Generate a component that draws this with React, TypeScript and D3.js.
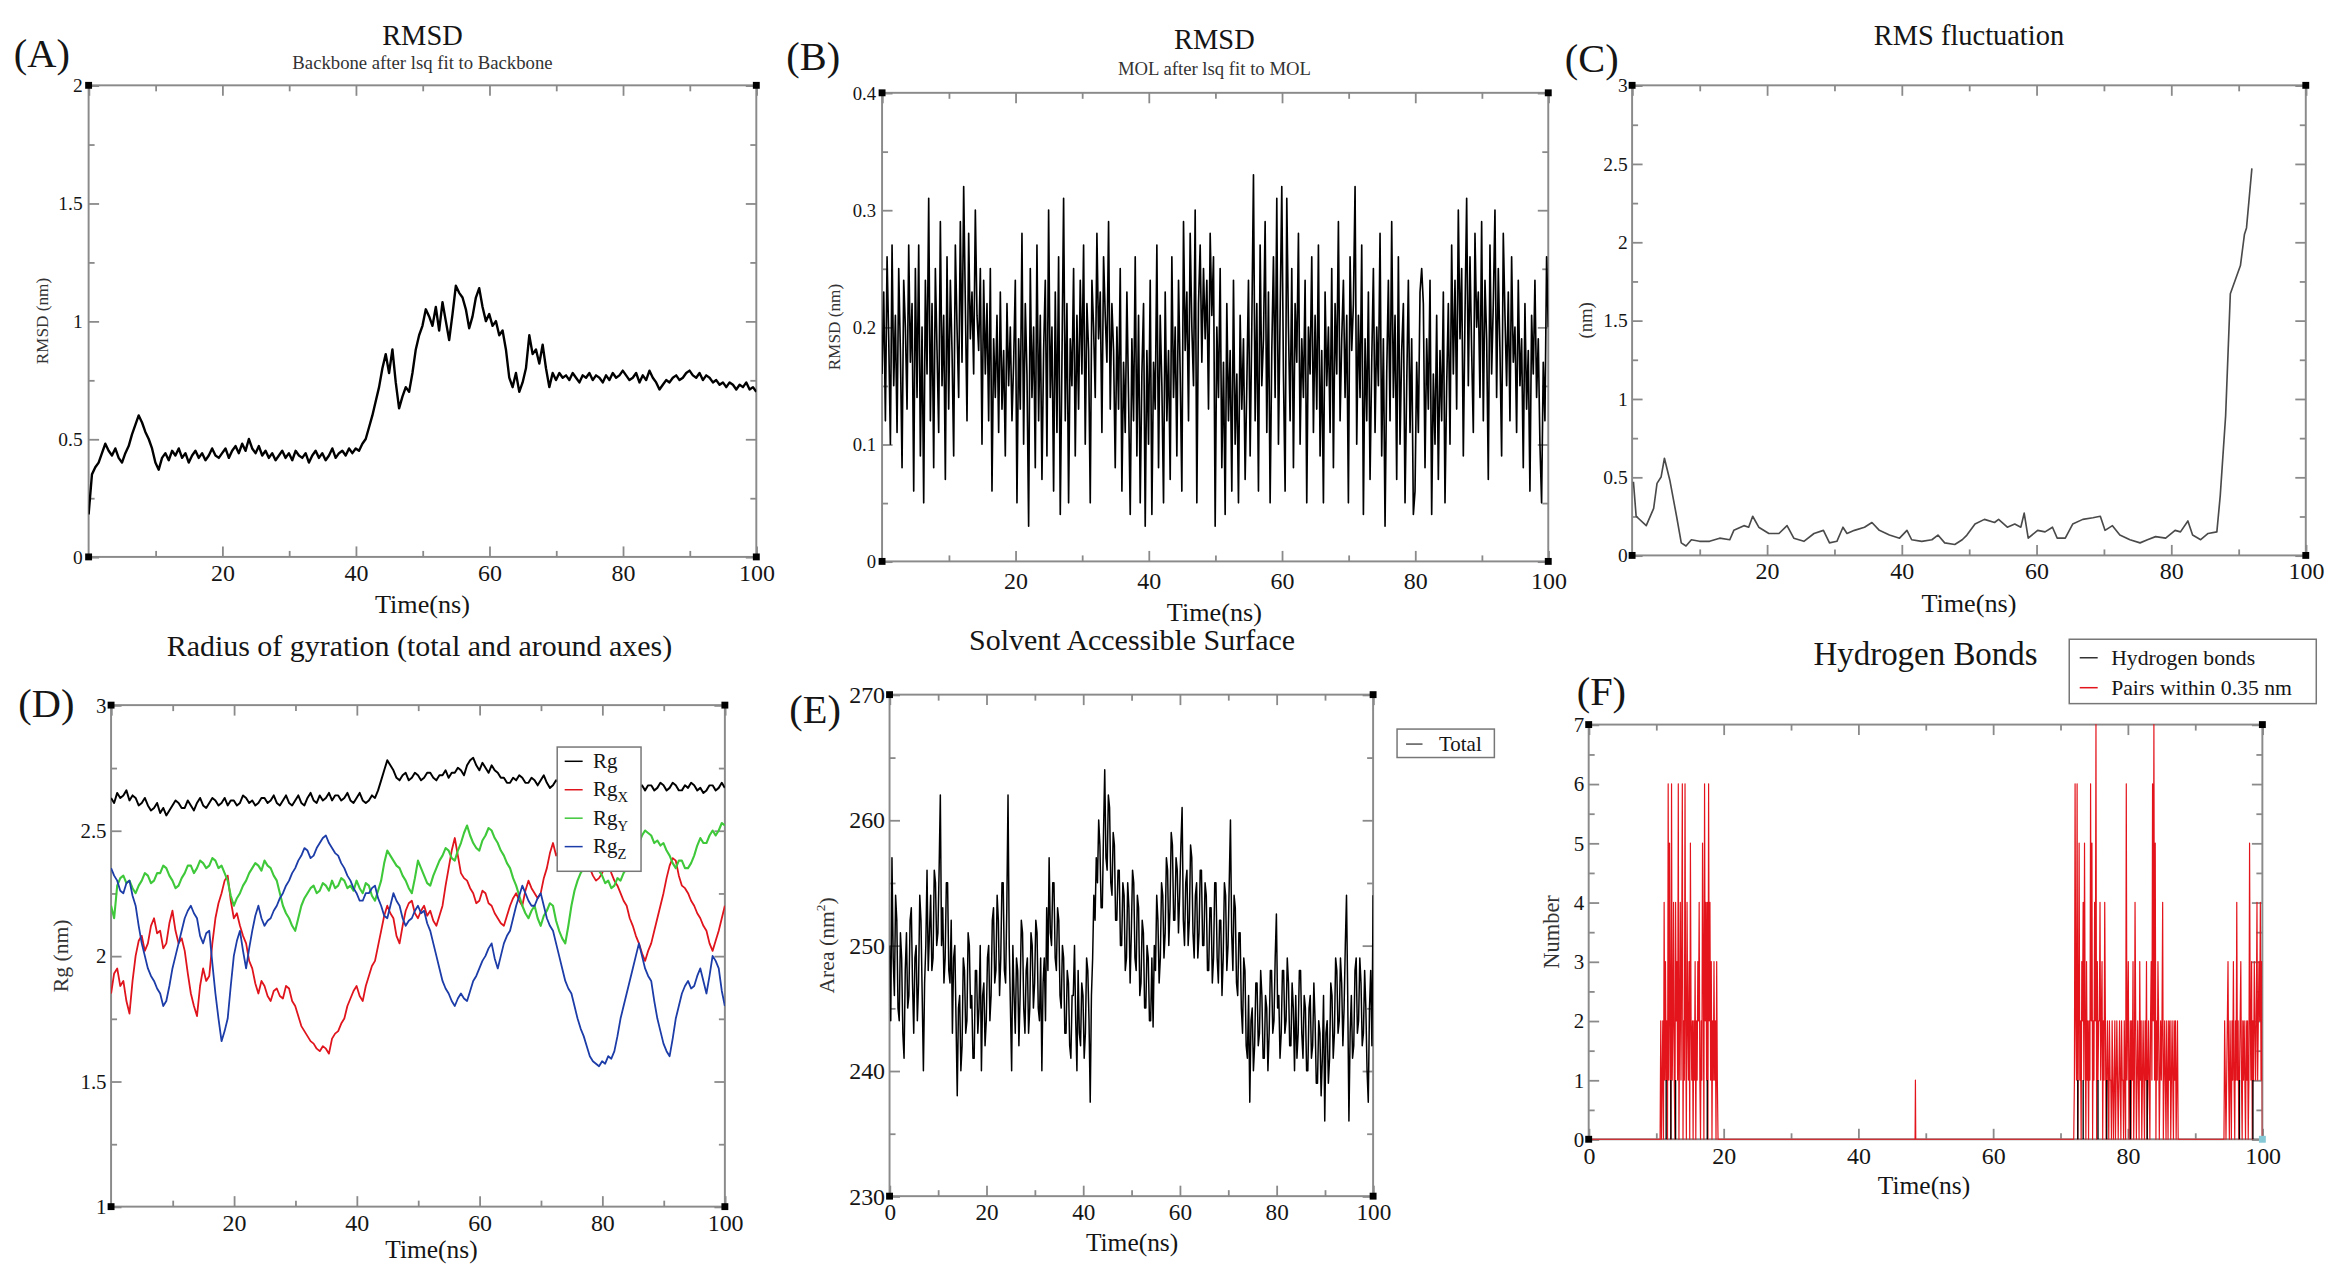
import React, {Component} from 'react';
import * as d3 from "d3"

type Pt = [number, number]

const FONT = "'Liberation Serif', 'Times New Roman', Times, serif"
const FRAME = "#8a8a8a"
const INK = "#151515"

// ---------------- data ----------------
// every panel shares the simulation time axis (ns)
const timeTicks = [0, 20, 40, 60, 80, 100]

// (A) RMSD, backbone after lsq fit to backbone (nm), one value every 0.5 ns
const backboneStep = 0.5
const backboneRmsd = [
  0.18,0.35,0.38,0.40,0.44,0.48,0.45,0.43,0.46,0.42,0.40,0.44,0.47,0.52,0.56,0.60,0.57,0.53,0.50,0.46,
  0.40,0.37,0.42,0.44,0.41,0.45,0.43,0.46,0.42,0.44,0.40,0.43,0.45,0.42,0.44,0.41,0.43,0.46,0.43,0.42,
  0.44,0.46,0.42,0.45,0.47,0.44,0.48,0.45,0.50,0.46,0.44,0.47,0.43,0.45,0.42,0.44,0.41,0.43,0.45,0.42,
  0.44,0.41,0.45,0.43,0.42,0.44,0.40,0.43,0.45,0.42,0.44,0.41,0.43,0.46,0.42,0.44,0.45,0.43,0.46,0.44,
  0.46,0.45,0.48,0.50,0.55,0.60,0.66,0.72,0.80,0.86,0.78,0.88,0.74,0.63,0.68,0.72,0.70,0.78,0.88,0.94,
  0.98,1.05,1.02,0.98,1.06,0.96,1.08,1.00,0.92,1.03,1.15,1.12,1.10,1.05,0.97,1.02,1.10,1.14,1.06,1.00,
  1.03,0.98,1.00,0.94,0.96,0.88,0.76,0.72,0.78,0.70,0.74,0.80,0.94,0.86,0.88,0.82,0.90,0.80,0.72,0.78,
  0.75,0.78,0.76,0.77,0.75,0.78,0.76,0.74,0.77,0.76,0.78,0.75,0.77,0.76,0.74,0.77,0.75,0.78,0.76,0.77,
  0.79,0.77,0.75,0.76,0.78,0.74,0.77,0.75,0.79,0.76,0.74,0.71,0.73,0.75,0.74,0.76,0.77,0.75,0.76,0.78,
  0.79,0.77,0.76,0.78,0.75,0.77,0.76,0.74,0.75,0.73,0.74,0.72,0.74,0.73,0.71,0.73,0.72,0.74,0.71,0.72,
  0.70
]
const backboneTicks = [0, 0.5, 1, 1.5, 2]

// (B) RMSD, MOL after lsq fit to MOL (nm), one value every 0.25 ns
const molStep = 0.25
const molRmsd = [
  0.16,0.23,0.12,0.26,0.19,0.10,0.27,0.15,0.21,0.11,0.25,0.18,0.08,0.24,0.20,0.13,0.27,0.17,0.22,0.06,
  0.25,0.14,0.27,0.09,0.20,0.05,0.24,0.16,0.31,0.12,0.22,0.08,0.25,0.18,0.11,0.29,0.15,0.21,0.07,0.26,
  0.13,0.24,0.18,0.09,0.27,0.20,0.14,0.29,0.17,0.32,0.22,0.12,0.28,0.19,0.23,0.16,0.30,0.21,0.18,0.25,
  0.10,0.24,0.16,0.22,0.12,0.25,0.06,0.19,0.14,0.21,0.11,0.23,0.13,0.18,0.09,0.22,0.15,0.20,0.12,0.17,
  0.24,0.05,0.19,0.13,0.28,0.10,0.22,0.16,0.03,0.25,0.14,0.20,0.08,0.27,0.12,0.21,0.07,0.18,0.24,0.09,
  0.30,0.14,0.20,0.06,0.23,0.11,0.26,0.04,0.17,0.31,0.12,0.22,0.05,0.19,0.15,0.25,0.09,0.21,0.13,0.24,
  0.16,0.27,0.10,0.22,0.18,0.05,0.24,0.20,0.14,0.28,0.19,0.23,0.11,0.26,0.21,0.17,0.29,0.13,0.22,0.18,
  0.08,0.20,0.13,0.25,0.06,0.17,0.11,0.23,0.14,0.04,0.19,0.12,0.26,0.09,0.21,0.05,0.16,0.22,0.03,0.18,
  0.10,0.24,0.04,0.17,0.13,0.27,0.08,0.21,0.15,0.05,0.23,0.12,0.18,0.07,0.26,0.14,0.20,0.09,0.24,0.16,
  0.06,0.29,0.18,0.23,0.12,0.28,0.20,0.15,0.30,0.05,0.22,0.27,0.17,0.25,0.19,0.24,0.13,0.28,0.21,0.26,
  0.03,0.20,0.14,0.25,0.08,0.17,0.04,0.22,0.12,0.18,0.06,0.24,0.10,0.16,0.05,0.21,0.13,0.19,0.07,0.15,
  0.24,0.09,0.20,0.33,0.12,0.22,0.06,0.27,0.15,0.19,0.29,0.11,0.23,0.05,0.18,0.26,0.14,0.31,0.10,0.21,
  0.32,0.16,0.06,0.31,0.20,0.12,0.25,0.08,0.22,0.17,0.28,0.10,0.19,0.14,0.24,0.05,0.20,0.16,0.26,0.11,
  0.21,0.13,0.27,0.09,0.18,0.05,0.23,0.15,0.20,0.11,0.25,0.08,0.22,0.16,0.29,0.12,0.19,0.24,0.14,0.21,
  0.05,0.26,0.18,0.22,0.32,0.10,0.21,0.14,0.27,0.04,0.19,0.12,0.23,0.07,0.17,0.25,0.11,0.20,0.15,0.28,
  0.09,0.19,0.03,0.16,0.24,0.12,0.29,0.14,0.21,0.07,0.26,0.10,0.18,0.22,0.05,0.15,0.24,0.11,0.19,0.04,
  0.06,0.17,0.11,0.23,0.25,0.22,0.08,0.19,0.13,0.24,0.04,0.16,0.10,0.21,0.07,0.18,0.12,0.23,0.05,0.15,
  0.22,0.10,0.27,0.16,0.24,0.13,0.30,0.19,0.25,0.09,0.21,0.31,0.15,0.26,0.18,0.11,0.28,0.20,0.23,0.14,
  0.29,0.12,0.24,0.19,0.07,0.27,0.16,0.22,0.30,0.14,0.25,0.18,0.09,0.28,0.21,0.15,0.23,0.12,0.26,0.17,
  0.20,0.11,0.24,0.15,0.19,0.08,0.22,0.13,0.18,0.06,0.21,0.16,0.24,0.14,0.19,0.10,0.05,0.17,0.12,0.26,
  0.20
]
const molTicks = [0, 0.1, 0.2, 0.3, 0.4]

// (C) RMS fluctuation (nm)
const rmsfTime = [
  0.2,0.6,2.1,3.2,3.7,4.3,4.8,5.6,6.6,7.3,8,8.8,10,11.5,13,14.5,15.1,16.6,17.3,17.9,
  18.8,20.3,21.8,23,24,25.5,27,28.4,29.3,30.4,31.3,31.9,33,34.5,35.6,36.7,38.2,39.7,40.8,41.5,
  43,44.5,45.4,46.4,47.9,49,49.7,50.9,52.3,53.8,54.4,55.7,56.8,57.7,58.2,58.8,60.2,61.3,62.4,63.1,
  64.3,65.4,66.9,68.4,69.5,70.2,71.3,72.4,73.9,75.4,76.5,77.7,79.2,80.6,81.4,82.5,83.2,84.4,85.5,86.8,
  87.3,88.1,88.8,90.3,90.9,91.2,92
]
const rmsfValue = [
  0.47,0.25,0.19,0.30,0.46,0.50,0.62,0.48,0.25,0.08,0.06,0.10,0.09,0.09,0.11,0.10,0.16,0.19,0.18,0.25,
  0.18,0.14,0.14,0.19,0.11,0.09,0.14,0.16,0.08,0.09,0.18,0.14,0.16,0.18,0.21,0.16,0.13,0.11,0.16,0.10,
  0.09,0.10,0.13,0.08,0.07,0.10,0.13,0.20,0.23,0.21,0.23,0.18,0.20,0.18,0.27,0.11,0.16,0.15,0.18,0.11,
  0.11,0.20,0.23,0.24,0.25,0.16,0.19,0.13,0.10,0.08,0.10,0.12,0.11,0.16,0.15,0.22,0.13,0.10,0.14,0.15,
  0.38,0.89,1.67,1.85,2.05,2.09,2.47
]
const rmsfTicks = [0, 0.5, 1, 1.5, 2, 2.5, 3]

// (D) radius of gyration (nm), one value every 0.5 ns
const rgStep = 0.5
const rgTotal = [
  2.63,2.61,2.65,2.63,2.64,2.66,2.62,2.64,2.63,2.60,2.61,2.63,2.60,2.58,2.59,2.61,2.57,2.59,2.56,2.58,
  2.60,2.62,2.61,2.59,2.59,2.62,2.60,2.58,2.61,2.63,2.60,2.59,2.61,2.63,2.62,2.60,2.61,2.63,2.60,2.62,
  2.62,2.60,2.61,2.64,2.63,2.61,2.62,2.60,2.61,2.63,2.63,2.61,2.62,2.64,2.61,2.60,2.62,2.64,2.61,2.60,
  2.62,2.64,2.61,2.60,2.63,2.65,2.62,2.61,2.64,2.62,2.63,2.65,2.62,2.64,2.64,2.62,2.63,2.65,2.62,2.61,
  2.63,2.65,2.62,2.61,2.62,2.64,2.63,2.66,2.70,2.74,2.78,2.76,2.74,2.71,2.70,2.72,2.73,2.70,2.71,2.73,
  2.72,2.70,2.71,2.73,2.73,2.71,2.70,2.72,2.72,2.74,2.71,2.73,2.73,2.75,2.74,2.72,2.76,2.78,2.79,2.76,
  2.74,2.77,2.75,2.73,2.76,2.74,2.73,2.71,2.71,2.69,2.69,2.71,2.70,2.72,2.71,2.69,2.69,2.71,2.70,2.68,
  2.70,2.72,2.69,2.67,2.68,2.70,2.69,2.67,2.67,2.69,2.68,2.66,2.67,2.69,2.68,2.66,2.66,2.68,2.67,2.65,
  2.68,2.66,2.67,2.69,2.66,2.68,2.68,2.66,2.67,2.69,2.68,2.66,2.67,2.68,2.66,2.68,2.68,2.66,2.67,2.69,
  2.68,2.66,2.67,2.69,2.68,2.66,2.66,2.68,2.67,2.69,2.68,2.66,2.67,2.65,2.66,2.68,2.68,2.66,2.67,2.69,
  2.67
]
const rgX = [
  1.85,1.93,1.95,1.88,1.90,1.82,1.77,1.90,2.00,2.06,2.08,2.02,2.05,2.12,2.15,2.09,2.10,2.03,2.05,2.13,
  2.18,2.10,2.05,2.07,2.02,1.93,1.85,1.80,1.76,1.88,1.95,1.90,1.92,2.05,2.15,2.21,2.25,2.30,2.32,2.22,
  2.15,2.17,2.12,2.08,2.05,1.98,1.95,1.89,1.85,1.90,1.88,1.84,1.82,1.86,1.87,1.84,1.83,1.88,1.87,1.82,
  1.80,1.76,1.72,1.70,1.68,1.66,1.65,1.63,1.62,1.64,1.63,1.61,1.67,1.69,1.70,1.73,1.75,1.80,1.83,1.86,
  1.88,1.84,1.82,1.88,1.92,1.96,1.98,2.04,2.10,2.16,2.20,2.17,2.15,2.08,2.05,2.12,2.18,2.21,2.22,2.17,
  2.15,2.18,2.20,2.16,2.18,2.14,2.12,2.16,2.20,2.28,2.35,2.42,2.47,2.40,2.33,2.31,2.30,2.27,2.25,2.21,
  2.22,2.26,2.25,2.21,2.20,2.17,2.15,2.13,2.12,2.16,2.20,2.23,2.25,2.22,2.20,2.26,2.30,2.27,2.25,2.23,
  2.25,2.31,2.35,2.41,2.45,2.40,2.42,2.46,2.48,2.44,2.45,2.42,2.40,2.43,2.42,2.38,2.35,2.32,2.30,2.31,
  2.33,2.36,2.38,2.33,2.30,2.28,2.25,2.22,2.20,2.15,2.12,2.08,2.05,2.01,1.98,2.02,2.05,2.10,2.15,2.20,
  2.25,2.31,2.36,2.39,2.38,2.32,2.28,2.27,2.25,2.22,2.20,2.17,2.15,2.12,2.10,2.05,2.02,2.06,2.10,2.15,
  2.20
]
const rgY = [
  2.20,2.15,2.28,2.31,2.32,2.29,2.30,2.27,2.25,2.28,2.30,2.33,2.32,2.29,2.30,2.33,2.33,2.36,2.35,2.32,
  2.30,2.27,2.28,2.31,2.33,2.36,2.36,2.33,2.35,2.38,2.37,2.35,2.36,2.39,2.38,2.35,2.36,2.33,2.30,2.24,
  2.20,2.23,2.25,2.28,2.30,2.33,2.35,2.37,2.36,2.34,2.38,2.36,2.35,2.32,2.30,2.25,2.20,2.17,2.15,2.12,
  2.10,2.15,2.20,2.23,2.25,2.27,2.28,2.25,2.26,2.29,2.28,2.26,2.30,2.27,2.28,2.31,2.30,2.27,2.28,2.26,
  2.30,2.27,2.25,2.29,2.28,2.24,2.22,2.26,2.30,2.37,2.42,2.40,2.38,2.36,2.35,2.32,2.30,2.27,2.25,2.31,
  2.38,2.35,2.32,2.29,2.28,2.32,2.35,2.38,2.40,2.43,2.42,2.39,2.38,2.42,2.45,2.49,2.52,2.48,2.45,2.43,
  2.42,2.46,2.48,2.51,2.50,2.47,2.45,2.42,2.40,2.37,2.35,2.31,2.28,2.24,2.20,2.17,2.15,2.18,2.20,2.15,
  2.12,2.16,2.18,2.21,2.20,2.14,2.10,2.07,2.05,2.12,2.20,2.26,2.30,2.33,2.35,2.38,2.40,2.39,2.38,2.34,
  2.32,2.29,2.30,2.27,2.28,2.31,2.30,2.33,2.35,2.39,2.42,2.44,2.45,2.48,2.50,2.49,2.48,2.45,2.46,2.44,
  2.45,2.42,2.40,2.37,2.35,2.38,2.38,2.35,2.35,2.37,2.40,2.44,2.47,2.45,2.45,2.48,2.50,2.48,2.50,2.53,
  2.52
]
const rgZ = [
  2.35,2.32,2.30,2.26,2.25,2.29,2.30,2.24,2.20,2.12,2.05,2.00,1.95,1.92,1.90,1.87,1.85,1.80,1.82,1.88,
  1.95,2.00,2.05,2.10,2.15,2.18,2.20,2.17,2.15,2.08,2.05,2.09,2.10,1.97,1.85,1.75,1.66,1.70,1.75,1.88,
  2.00,2.06,2.10,2.02,1.95,2.03,2.10,2.16,2.20,2.15,2.12,2.14,2.15,2.18,2.20,2.23,2.25,2.28,2.30,2.33,
  2.35,2.38,2.40,2.43,2.42,2.39,2.40,2.43,2.45,2.47,2.48,2.45,2.43,2.41,2.40,2.37,2.35,2.32,2.30,2.27,
  2.25,2.22,2.22,2.25,2.25,2.27,2.28,2.23,2.20,2.16,2.15,2.20,2.25,2.22,2.20,2.15,2.12,2.14,2.15,2.18,
  2.20,2.17,2.18,2.13,2.10,2.05,2.00,1.95,1.90,1.87,1.85,1.82,1.80,1.83,1.85,1.83,1.82,1.86,1.90,1.92,
  1.95,1.98,2.00,2.03,2.05,1.99,1.95,2.00,2.05,2.08,2.10,2.15,2.20,2.24,2.28,2.25,2.22,2.20,2.20,2.23,
  2.25,2.20,2.15,2.12,2.10,2.05,2.00,1.95,1.90,1.87,1.85,1.80,1.75,1.71,1.68,1.64,1.60,1.58,1.57,1.56,
  1.58,1.57,1.60,1.59,1.62,1.68,1.75,1.80,1.85,1.90,1.95,2.00,2.05,2.00,1.95,1.92,1.90,1.82,1.75,1.70,
  1.65,1.62,1.60,1.67,1.75,1.80,1.85,1.88,1.90,1.87,1.88,1.92,1.95,1.90,1.85,1.92,2.00,1.98,1.95,1.86,
  1.80
]
const rgTicks = [1, 1.5, 2, 2.5, 3]
const rgLegendSubs = ["", "X", "Y", "Z"]

// (E) solvent accessible surface, total (nm^2), one value every 0.25 ns
const sasaStep = 0.25
const sasaTotal = [
  250,244,257,249,246,254,252,245,244,251,249,243,241,248,251,245,246,252,253,247,243,249,250,244,247,254,252,246,240,247,250,256,248,251,254,248,249,256,255,250,
  251,256,262,250,253,247,249,255,255,248,247,252,243,249,250,244,238,245,246,240,242,249,248,243,244,251,250,245,246,241,241,248,248,243,245,250,240,246,247,242,
  244,249,250,244,246,252,253,247,248,254,252,246,249,255,255,248,247,253,262,250,245,240,250,246,243,249,248,242,246,252,251,245,243,248,249,243,245,251,250,245,
  247,252,251,245,244,249,240,247,249,244,253,248,257,251,250,255,255,249,248,253,252,246,245,250,249,243,243,248,247,242,241,246,246,250,244,240,248,243,242,247,
  246,241,243,249,248,244,237.5,246,249,254,252,257,255,260,258,253,253,259,264,257,256,262,261,255,254,259,258,252,252,256,256,250,250,255,254,248,249,255,253,247,
  251,256,255,249,248,254,253,246,247,252,251,245,245,250,249,244,244,249,243.5,250,248,254,252,247,249,255,254,249,251,257,256,250,253,259,258,252,252,257,256,251,
  254,258,261,252,250,255,256,250,252,258,257,251,249,254,255,249,251,256,256,250,250,255,254,248,248,253,253,247,249,255,255,249,247,252,252,246,249,255,254,248,
  250,255,260,251,248,254,253,247,246,251,251,245,243,249,248,242,241,246,237.5,244,245,240,242,247,247,242,243,248,246,241,241,246,245,240,243,248,248,243,244,249,
  252.5,245,246,241,243,248,248,243,244,249,247,242,242,247,245,240,246,241,243,248,248,243,241,246,245,240,240,245,246,241,242,247,244,239,239,244,243,238,241,246,
  236,243,244,239,241,247,246,241,243,249,248,243,244,249,247,242,245,250,254,246,236,243,246,241,242,248,249,243,244,249,247,242,243,248,245,240,237.5,245,248,242,
  254
]
const sasaTicks = [230, 240, 250, 260, 270]

// (F) hydrogen bonds: pairs within 0.35 nm come in bursts sampled every 0.1 ns
const pairStep = 0.1
const pairBurstStarts = [10.6, 72.0, 94.3]
const pairBursts = [
  [0,2,0,1,2,0,4,1,3,1, 2,0,6,1,5,2,0,6,1,2, 4,1,0,4,2,3,1,6,0,2, 4,1,3,6,0,2,1,6,2,0,
   4,2,1,3,0,5,2,1,2,0, 2,1,3,0,2,1,3,2,4,1, 0,2,1,5,3,0,6,2,4,1, 4,0,6,2,4,1,3,0,2,1,
   3,1,2,0,3,1,0],
  [0,1,6,2,1,6,0,2,5,1, 2,0,3,2,4,1,5,2,0,3, 1,2,0,2,1,6,2,5,0,2, 1,4,2,7,0,3,1,2,2,4,
   1,2,3,0,2,1,4,2,0,1, 2,1,0,2,1,1,0,2,1,0, 1,2,0,1,2,1,0,1,2,1, 0,2,1,1,0,2,1,0,6,1,
   2,3,0,1,2,0,2,1,3,0, 1,4,2,0,1,2,1,0,3,1, 2,0,1,2,1,0,2,1,3,0, 1,2,1,0,2,3,1,6,2,7,
   1,5,0,2,1,3,2,0,1,2, 1,2,4,0,1,2,1,0,2,1, 0,2,1,2,0,1,2,1,0,2, 1,2,0,1,2,0],
  [0,2,1,0,1,2,3,1,0,2, 1,0,2,1,3,1,0,2,1,4, 1,2,0,1,2,3,1,0,2,1, 2,1,0,2,1,2,0,1,5,2,
   1,3,0,2,1,3,2,1,2,4, 1,2,3,2,4,1,3,0]
]
const pairLoneTimes = [48.5]
const pairLoneValues = [1]
const hbondTimes = [11.5, 12.2, 12.9, 17.6, 72.6, 73.4, 75.6, 76.9, 80.4, 82.9, 96.6, 98.6]
const hbondValue = 1
const hbTicks = [0, 1, 2, 3, 4, 5, 6, 7]
const hbLegend = ["Hydrogen bonds", "Pairs within 0.35 nm"]

// ---------------- series built from the arrays ----------------
const stepSeries = (vals: number[], step: number): Pt[] => vals.map((v, i) => [i * step, v])

const pairSegments: Pt[][] = [
  ...pairBursts.map((vals, b) => vals.map((v, i) => [pairBurstStarts[b] + i * pairStep, v] as Pt)),
  ...pairLoneTimes.map((t, i) => [[t, pairLoneValues[i]] as Pt]),
].sort((a, b) => a[0][0] - b[0][0])
const pairPts: Pt[] = [[0, 0]]
pairSegments.forEach(seg => {
  pairPts.push([seg[0][0] - 0.05, 0], ...seg, [seg[seg.length - 1][0] + 0.05, 0])
})
pairPts.push([100, 0])

interface Series { pts: Pt[]; color: string; width: number; spikes?: boolean }
interface Legend {
  x: number; y: number; w: number; h: number; font: number
  line: [number, number]; textX: number; rows: number[]
  entries: {text: string; sub?: string; color: string}[]
}
interface Panel {
  key: string
  box: {left: number; right: number; top: number; bottom: number}
  yTicks: number[]
  xZero: boolean
  xFont: number; yFont: number; xPad: number; yPad: number
  letter: {text: string; x: number; y: number}
  title: {text: string; x: number; y: number; size: number}
  subtitle?: {text: string; y: number; size: number}
  yLabel: {text: string; sup?: string; x: number; size: number}
  xLabel: {x: number; y: number; size: number}
  series: Series[]
  legend?: Legend
  blueCorner?: boolean
}

const rgColors = ["#000", "#e0141c", "#3ec83a", "#1c3ca8"]

const panels: Panel[] = [
  {
    key: "A", box: {left: 59, right: 505, top: 57, bottom: 372}, yTicks: backboneTicks, xZero: false,
    xFont: 16, yFont: 13, xPad: 5, yPad: 4,
    letter: {text: "(A)", x: 9, y: 45},
    title: {text: "RMSD", x: 282, y: 30, size: 19},
    subtitle: {text: "Backbone after lsq fit to Backbone", y: 46, size: 12.5},
    yLabel: {text: "RMSD (nm)", x: 32, size: 11.5},
    xLabel: {x: 282, y: 409.5, size: 17.5},
    series: [{pts: stepSeries(backboneRmsd, backboneStep), color: "#000", width: 1.6}],
  },
  {
    key: "B", box: {left: 589, right: 1034, top: 62, bottom: 375}, yTicks: molTicks, xZero: false,
    xFont: 16, yFont: 12.5, xPad: 7, yPad: 4,
    letter: {text: "(B)", x: 525, y: 47},
    title: {text: "RMSD", x: 811, y: 33, size: 19},
    subtitle: {text: "MOL after lsq fit to MOL", y: 50, size: 12.5},
    yLabel: {text: "RMSD (nm)", x: 561, size: 11.5},
    xLabel: {x: 811, y: 414.5, size: 17.5},
    series: [{pts: stepSeries(molRmsd, molStep), color: "#000", width: 1.1}],
  },
  {
    key: "C", box: {left: 1090, right: 1540, top: 57, bottom: 371}, yTicks: rmsfTicks, xZero: false,
    xFont: 16, yFont: 13, xPad: 4.5, yPad: 3,
    letter: {text: "(C)", x: 1045, y: 48},
    title: {text: "RMS fluctuation", x: 1315, y: 30, size: 19},
    yLabel: {text: "(nm)", x: 1063, size: 12.5},
    xLabel: {x: 1315, y: 408.5, size: 17.5},
    series: [{pts: rmsfTime.map((t, i) => [t, rmsfValue[i]] as Pt), color: "#4a4a4a", width: 1.1}],
  },
  {
    key: "D", box: {left: 74, right: 484, top: 471, bottom: 806}, yTicks: rgTicks, xZero: false,
    xFont: 16, yFont: 14, xPad: 5, yPad: 3,
    letter: {text: "(D)", x: 12, y: 479},
    title: {text: "Radius of gyration (total and around axes)", x: 280, y: 438, size: 20},
    yLabel: {text: "Rg (nm)", x: 45, size: 14.5},
    xLabel: {x: 288, y: 840, size: 17},
    series: [
      {pts: stepSeries(rgTotal, rgStep), color: rgColors[0], width: 1.3},
      {pts: stepSeries(rgX, rgStep), color: rgColors[1], width: 1.2},
      {pts: stepSeries(rgY, rgStep), color: rgColors[2], width: 1.4},
      {pts: stepSeries(rgZ, rgStep), color: rgColors[3], width: 1.2},
    ],
    legend: {
      x: 372, y: 499, w: 56, h: 83, font: 14, line: [377, 389], textX: 396, rows: [513, 532, 551, 570],
      entries: rgLegendSubs.map((s, i) => ({text: "Rg", sub: s, color: rgColors[i]})),
    },
  },
  {
    key: "E", box: {left: 594, right: 917, top: 464, bottom: 799}, yTicks: sasaTicks, xZero: true,
    xFont: 15.5, yFont: 16, xPad: 5, yPad: 3,
    letter: {text: "(E)", x: 527, y: 483},
    title: {text: "Solvent Accessible Surface", x: 756, y: 434, size: 20},
    yLabel: {text: "Area (nm", sup: "2", x: 557, size: 14.5},
    xLabel: {x: 756, y: 835.5, size: 17},
    series: [{pts: stepSeries(sasaTotal, sasaStep), color: "#000", width: 1}],
    legend: {
      x: 933, y: 487, w: 65, h: 19, font: 14, line: [939, 950], textX: 961, rows: [501.5],
      entries: [{text: "Total", color: "#555"}],
    },
  },
  {
    key: "F", box: {left: 1061, right: 1511, top: 484, bottom: 761}, yTicks: hbTicks, xZero: true,
    xFont: 16, yFont: 14, xPad: 5, yPad: 3,
    letter: {text: "(F)", x: 1053, y: 471},
    title: {text: "Hydrogen Bonds", x: 1286, y: 444, size: 22},
    yLabel: {text: "Number", x: 1041, size: 15},
    xLabel: {x: 1285, y: 797.5, size: 17},
    series: [
      {pts: pairPts, color: "#e3141b", width: 0.8},
      {pts: hbondTimes.map(t => [t, hbondValue] as Pt), color: "#000", width: 0.9, spikes: true},
    ],
    legend: {
      x: 1382, y: 427, w: 165, h: 43, font: 14.5, line: [1389, 1401], textX: 1410, rows: [444, 464],
      entries: [{text: hbLegend[0], color: "#333"}, {text: hbLegend[1], color: "#e3141b"}],
    },
    blueCorner: true,
  },
]

const fmtY = (d: any) => String(+(+d).toFixed(2))

class App extends Component {
  svgRef = React.createRef<SVGSVGElement>()

  componentDidMount() {
    const svg = d3.select(this.svgRef.current)
    svg.selectAll("*").remove()
    svg.append("rect").attr("width", 1564).attr("height", 855).attr("fill", "#fff")
    panels.forEach(p => this.drawPanel(svg, p))
  }

  styleAxis = (g: any, font: number) => {
    g.attr("font-family", FONT).attr("font-size", font)
    g.select(".domain").remove()
    g.selectAll("line").attr("stroke", FRAME).attr("stroke-width", 1.2)
    g.selectAll("text").attr("fill", INK)
  }

  drawPanel(svg: any, p: Panel) {
    const {left, right, top, bottom} = p.box
    const x = d3.scaleLinear([0, 100], [left, right])
    const y = d3.scaleLinear([p.yTicks[0], p.yTicks[p.yTicks.length - 1]], [bottom, top])
    const xMinor = timeTicks.slice(1).map((t, i) => (t + timeTicks[i]) / 2)
    const yMinor = p.yTicks.slice(1).map((v, i) => (v + p.yTicks[i]) / 2)
    const MAJ = 7, MIN = 4
    const g = svg.append("g").attr("class", "panel-" + p.key)

    // frame
    g.append("rect").attr("x", left).attr("y", top).attr("width", right - left).attr("height", bottom - top)
      .attr("fill", "none").attr("stroke", FRAME).attr("stroke-width", 1.3)

    // inward ticks on all four sides, labels bottom and left
    const xLab = p.xZero ? timeTicks : timeTicks.slice(1)
    g.append("g").attr("transform", `translate(0,${bottom})`)
      .call(d3.axisBottom(x).tickValues(xLab).tickSize(-MAJ).tickPadding(p.xPad).tickFormat(d3.format("d")))
      .call((a: any) => this.styleAxis(a, p.xFont))
    g.append("g").attr("transform", `translate(0,${bottom})`)
      .call(d3.axisBottom(x).tickValues(xMinor).tickSize(-MIN).tickFormat(() => ""))
      .call((a: any) => this.styleAxis(a, p.xFont))
    g.append("g").attr("transform", `translate(0,${top})`)
      .call(d3.axisTop(x).tickValues(timeTicks).tickSize(-MAJ).tickFormat(() => ""))
      .call((a: any) => this.styleAxis(a, p.xFont))
    g.append("g").attr("transform", `translate(0,${top})`)
      .call(d3.axisTop(x).tickValues(xMinor).tickSize(-MIN).tickFormat(() => ""))
      .call((a: any) => this.styleAxis(a, p.xFont))
    g.append("g").attr("transform", `translate(${left},0)`)
      .call(d3.axisLeft(y).tickValues(p.yTicks).tickSize(-MAJ).tickPadding(p.yPad).tickFormat(fmtY))
      .call((a: any) => this.styleAxis(a, p.yFont))
    g.append("g").attr("transform", `translate(${left},0)`)
      .call(d3.axisLeft(y).tickValues(yMinor).tickSize(-MIN).tickFormat(() => ""))
      .call((a: any) => this.styleAxis(a, p.yFont))
    g.append("g").attr("transform", `translate(${right},0)`)
      .call(d3.axisRight(y).tickValues(p.yTicks).tickSize(-MAJ).tickFormat(() => ""))
      .call((a: any) => this.styleAxis(a, p.yFont))
    g.append("g").attr("transform", `translate(${right},0)`)
      .call(d3.axisRight(y).tickValues(yMinor).tickSize(-MIN).tickFormat(() => ""))
      .call((a: any) => this.styleAxis(a, p.yFont))

    // data
    const clipId = "clip-" + p.key
    g.append("clipPath").attr("id", clipId).append("rect")
      .attr("x", left).attr("y", top - 1).attr("width", right - left).attr("height", bottom - top + 2)
    const line = d3.line<Pt>().x(d => x(d[0])).y(d => y(d[1]))
    const plot = g.append("g").attr("clip-path", `url(#${clipId})`)
    p.series.forEach(s => {
      if (s.spikes) {
        plot.selectAll(null).data(s.pts).join("path")
          .attr("d", (d: Pt) => line([[d[0], 0], d]))
          .attr("stroke", s.color).attr("stroke-width", s.width).attr("fill", "none")
      } else {
        plot.append("path").datum(s.pts).attr("d", line)
          .attr("fill", "none").attr("stroke", s.color).attr("stroke-width", s.width)
          .attr("stroke-linejoin", "round")
      }
    })

    // corner markers
    const corners: Pt[] = [[left, top], [right, top], [left, bottom], [right, bottom]]
    g.selectAll(null).data(corners).join("rect")
      .attr("x", (d: Pt) => d[0] - 2.3).attr("y", (d: Pt) => d[1] - 2.3)
      .attr("width", 4.6).attr("height", 4.6)
      .attr("fill", (d: Pt, i: number) => (p.blueCorner && i === 3 ? "#86c9d6" : "#000"))

    // texts
    const txt = (xx: number, yy: number, s: string, size: number, anchor = "middle") =>
      g.append("text").attr("x", xx).attr("y", yy).attr("text-anchor", anchor)
        .attr("font-family", FONT).attr("font-size", size).attr("fill", INK).text(s)
    txt(p.letter.x, p.letter.y, p.letter.text, 27, "start")
    txt(p.title.x, p.title.y, p.title.text, p.title.size)
    if (p.subtitle) txt(p.title.x, p.subtitle.y, p.subtitle.text, p.subtitle.size).attr("fill", "#333")
    txt(p.xLabel.x, p.xLabel.y, "Time(ns)", p.xLabel.size)
    const yl = g.append("text")
      .attr("transform", `translate(${p.yLabel.x},${(top + bottom) / 2}) rotate(-90)`)
      .attr("text-anchor", "middle").attr("font-family", FONT).attr("font-size", p.yLabel.size)
      .attr("fill", "#333").text(p.yLabel.text)
    if (p.yLabel.sup) {
      yl.append("tspan").attr("dy", -6).attr("font-size", p.yLabel.size * 0.62).text(p.yLabel.sup)
      yl.append("tspan").attr("dy", 6).text(")")
    }

    // legend
    if (p.legend) {
      const L = p.legend
      const lg = g.append("g")
      lg.append("rect").attr("x", L.x).attr("y", L.y).attr("width", L.w).attr("height", L.h)
        .attr("fill", "#fff").attr("stroke", "#777").attr("stroke-width", 1)
      L.entries.forEach((e, i) => {
        const by = L.rows[i]
        lg.append("line").attr("x1", L.line[0]).attr("x2", L.line[1])
          .attr("y1", by - L.font * 0.32).attr("y2", by - L.font * 0.32)
          .attr("stroke", e.color).attr("stroke-width", 1)
        const t = lg.append("text").attr("x", L.textX).attr("y", by)
          .attr("font-family", FONT).attr("font-size", L.font).attr("fill", INK).text(e.text)
        if (e.sub) t.append("tspan").attr("dy", 4).attr("font-size", L.font * 0.7).text(e.sub)
      })
    }
  }

  public render(): JSX.Element {
    return (
      <svg
        ref={this.svgRef}
        width={2342}
        height={1280}
        viewBox="0 0 1564 855"
        style={{position: "absolute", left: 0, top: 0, background: "#fff"}}
      />
    )
  }
}

export default App;
